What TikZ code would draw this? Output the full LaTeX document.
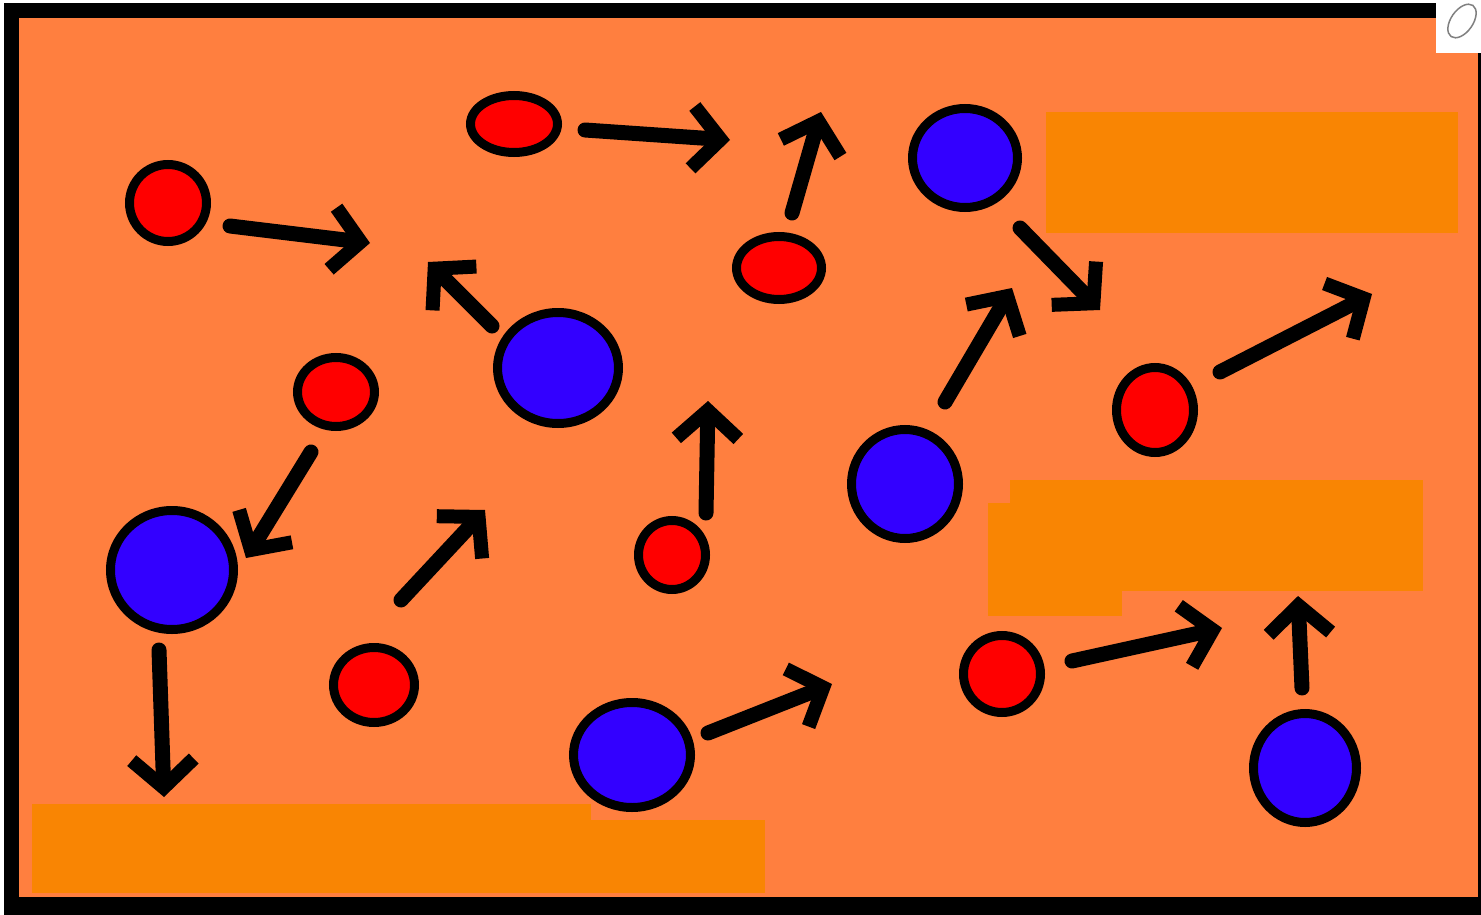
\documentclass[tikz,border=0pt]{standalone}
\usetikzlibrary{arrows.meta,shapes.geometric}

\definecolor{boxbg}{RGB}{255,127,63}
\definecolor{patchor}{RGB}{249,133,3}
\definecolor{redball}{RGB}{255,0,0}
\definecolor{blueball}{RGB}{51,0,255}

\tikzset{
  ball/.style={ellipse, draw=black, line width=9pt, inner sep=0pt},
  redmol/.style={ball, fill=redball},
  bluemol/.style={ball, fill=blueball},
  move/.style={line width=15pt, line cap=round,
    -{Straight Barb[length=28pt, width=62pt, line width=14pt]}},
}

\begin{document}
\begin{tikzpicture}[x=1pt, y=-1pt]
  \useasboundingbox (0,0) rectangle (1481,915);

  % Frame and box
  \fill[white] (0,0) rectangle (1481,915);
  \fill[black] (4,3) rectangle (1481,915);
  \fill[boxbg] (19,18) rectangle (1478,897);

  % Corner patch with pen icon
  \fill[white] (1436,0) rectangle (1481,53);
  \draw[gray, line width=1.5pt, rotate around={-35:(1462,21)}] (1462,21) ellipse (11 and 19);

  % Covered label areas
  \fill[patchor] (1046,112) rectangle (1458,233);
  \fill[patchor] (1010,480) rectangle (1423,591);
  \fill[patchor] (988,503) rectangle (1122,616);
  \fill[patchor] (32,804) rectangle (591,893);
  \fill[patchor] (32,820) rectangle (765,893);

  % Small (red) particles
  \foreach \name/\x/\y/\w/\h in {r1/168/203/86/86, r2/514/124/96/66,
      r3/779/268/94/72, r4/336/392/86/78, r5/672/555/76/78,
      r6/374/685/90/84, r7/1002/674/86/86, r8/1155/410/86/94} {
    \node[redmol, minimum width=\w pt-9pt, minimum height=\h pt-9pt] (\name) at (\x,\y) {};
  }

  % Large (blue) particles
  \foreach \name/\x/\y/\w/\h in {b1/965/158/114/108, b2/558/368/130/120,
      b3/172/570/132/128, b4/905/484/116/118, b5/632/755/126/114,
      b6/1305/768/112/118} {
    \node[bluemol, minimum width=\w pt-9pt, minimum height=\h pt-9pt] (\name) at (\x,\y) {};
  }

  % Arrow tails and tips
  \coordinate (t1) at (230,226);   \coordinate (h1) at (370,243);
  \coordinate (t2) at (585,130);   \coordinate (h2) at (730,140);
  \coordinate (t3) at (792,213);   \coordinate (h3) at (821,112);
  \coordinate (t4) at (492,326);   \coordinate (h4) at (428,262);
  \coordinate (t5) at (1020,228);  \coordinate (h5) at (1100,310);
  \coordinate (t6) at (311,452);   \coordinate (h6) at (246,558);
  \coordinate (t7) at (401,600);   \coordinate (h7) at (485,510);
  \coordinate (t8) at (706,513);   \coordinate (h8) at (708,401);
  \coordinate (t9) at (945,402);   \coordinate (h9) at (1012,288);
  \coordinate (t10) at (1220,372); \coordinate (h10) at (1372,294);
  \coordinate (t11) at (159,650);  \coordinate (h11) at (164,797);
  \coordinate (t12) at (708,733);  \coordinate (h12) at (832,684);
  \coordinate (t13) at (1072,661); \coordinate (h13) at (1222,628);
  \coordinate (t14) at (1302,688); \coordinate (h14) at (1298,596);

  % Arrows
  \foreach \i in {1,...,14} {
    \draw[move] (t\i) -- (h\i);
  }
\end{tikzpicture}
\end{document}
